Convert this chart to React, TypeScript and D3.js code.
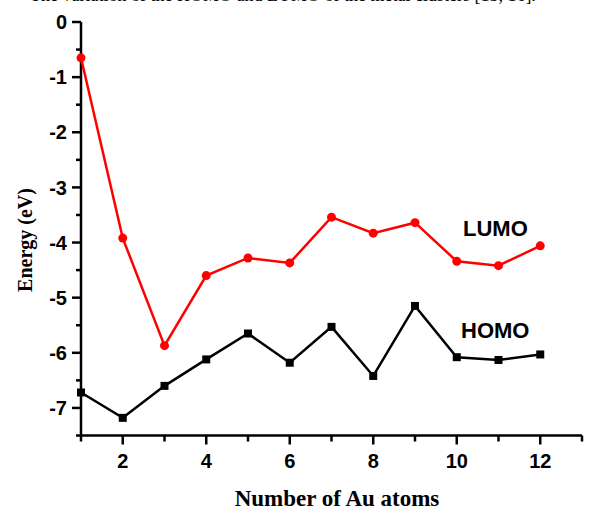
import React from "react";
import * as d3 from "d3";

const atoms = [1, 2, 3, 4, 5, 6, 7, 8, 9, 10, 11, 12];
const lumo = [-0.65, -3.92, -5.87, -4.6, -4.28, -4.37, -3.54, -3.83, -3.64, -4.34, -4.42, -4.06];
const homo = [-6.72, -7.18, -6.6, -6.12, -5.65, -6.18, -5.53, -6.42, -5.15, -6.08, -6.13, -6.03];
const xMajorTicks = [2, 4, 6, 8, 10, 12];
const xMinorTicks = [1, 3, 5, 7, 9, 11, 13];
const yMajorTicks = [0, -1, -2, -3, -4, -5, -6, -7];
const yMinorTicks = [-0.5, -1.5, -2.5, -3.5, -4.5, -5.5, -6.5, -7.5];

const W = 595;
const H = 508;
const left = 81;
const right = 582;
const top = 22;
const bottom = 435.5;

export default function App() {
  const x = d3.scaleLinear().domain([1, 13]).range([left, right]);
  const y = d3.scaleLinear().domain([0, -7.5]).range([top, bottom]);
  const line = d3
    .line<number>()
    .x((_, i) => x(atoms[i]))
    .y((d) => y(d));
  const arial = "Arial, 'Liberation Sans', sans-serif";
  const times = "'Times New Roman', 'Liberation Serif', serif";
  return (
    <svg
      width={W}
      height={H}
      style={{ position: "absolute", left: 0, top: 0, background: "#fff" }}
    >
      <rect x={0} y={0} width={W} height={H} fill="#fff" />
      <text x={30} y={1} fontFamily={times} fontSize={18} fill="#000">
        The variation of the HOMO and LUMO of the metal clusters [15, 16].
      </text>
      {/* axes */}
      <line x1={left} y1={top} x2={left} y2={bottom} stroke="#000" strokeWidth={2.5} />
      <line x1={left} y1={bottom} x2={right} y2={bottom} stroke="#000" strokeWidth={2.5} />
      {yMajorTicks.map((t) => (
        <g key={"ym" + t}>
          <line x1={left - 9} x2={left} y1={y(t)} y2={y(t)} stroke="#000" strokeWidth={2.5} />
          <text
            x={left - 14}
            y={y(t)}
            dy="0.36em"
            textAnchor="end"
            fontFamily={arial}
            fontWeight="bold"
            fontSize={20}
          >
            {String(t)}
          </text>
        </g>
      ))}
      {yMinorTicks.map((t) => (
        <line key={"yn" + t} x1={left - 5} x2={left} y1={y(t)} y2={y(t)} stroke="#000" strokeWidth={2.5} />
      ))}
      {xMajorTicks.map((t) => (
        <g key={"xm" + t}>
          <line x1={x(t)} x2={x(t)} y1={bottom} y2={bottom + 9} stroke="#000" strokeWidth={2.5} />
          <text
            x={x(t)}
            y={468}
            textAnchor="middle"
            fontFamily={arial}
            fontWeight="bold"
            fontSize={20}
          >
            {t}
          </text>
        </g>
      ))}
      {xMinorTicks.map((t) => (
        <line key={"xn" + t} x1={x(t)} x2={x(t)} y1={bottom} y2={bottom + 6} stroke="#000" strokeWidth={2.5} />
      ))}
      {/* series */}
      <path d={line(lumo) || ""} fill="none" stroke="#ff0000" strokeWidth={2.5} />
      <path d={line(homo) || ""} fill="none" stroke="#000" strokeWidth={2.5} />
      {lumo.map((v, i) => (
        <circle key={"lc" + i} cx={x(atoms[i])} cy={y(v)} r={4.5} fill="#ff0000" />
      ))}
      {homo.map((v, i) => (
        <rect key={"hs" + i} x={x(atoms[i]) - 4} y={y(v) - 4} width={8} height={8} fill="#000" />
      ))}
      <text x={463} y={236} fontFamily={arial} fontWeight="bold" fontSize={22}>
        LUMO
      </text>
      <text x={461} y={338} fontFamily={arial} fontWeight="bold" fontSize={22}>
        HOMO
      </text>
      {/* axis titles */}
      <text
        x={337}
        y={505.5}
        textAnchor="middle"
        fontFamily={times}
        fontWeight="bold"
        fontSize={23}
      >
        Number of Au atoms
      </text>
      <text
        transform={`translate(32, 240) rotate(-90)`}
        textAnchor="middle"
        fontFamily={times}
        fontWeight="bold"
        fontSize={20}
      >
        Energy (eV)
      </text>
    </svg>
  );
}
